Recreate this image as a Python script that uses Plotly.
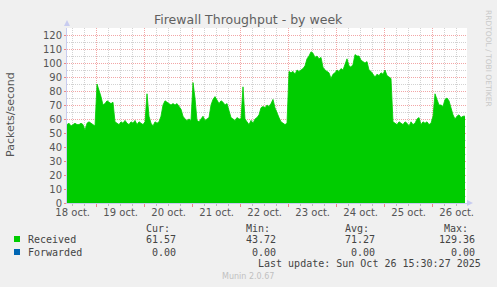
import pandas as pd
import plotly.graph_objects as go

# ---- data (hourly averages) ----
start_time = "2025-10-18 09:10"
received = [
    56, 57, 55, 56, 57, 56, 56, 57, 56, 52, 57, 58, 57, 56, 55,
    85, 81, 76, 70, 71, 73, 72, 71, 72,
    58, 57, 56, 58, 57, 59, 57, 56, 58, 57, 59, 56, 58, 57, 56,
    58, 78, 62,
    57, 55, 58, 57, 58,
    62, 70, 73, 72,
    71, 70, 71, 70, 71, 69,
    67, 62, 60, 59, 60, 59,
    86, 75,
    59, 58, 60, 62, 59, 60, 61,
    70, 74, 76, 73, 71, 73, 72, 70, 71, 66,
    61, 60, 59, 61, 60,
    60, 83,
    60, 58, 56, 59, 57, 60,
    61, 63, 68,
    69, 68, 70, 69,
    71, 74,
    68, 64, 61,
    58, 57, 56, 57,
    94, 93, 94, 92, 95, 94, 95, 96, 98,
    103, 105,
    108, 107,
    104, 105, 103, 104,
    97, 95, 94, 93,
    89, 92, 93,
    95, 94, 96, 95,
    99, 103,
    98, 97, 99,
    106, 105, 105,
    102, 101, 100, 101,
    95, 94, 92,
    90, 92, 91,
    93, 92, 95,
    91, 90, 89,
    58, 57, 56, 58, 57, 56, 58, 57, 55, 58, 56, 57, 60, 61,
    56, 58, 57, 58, 56, 57,
    62, 78,
    74, 70, 70, 69,
    74, 75, 73,
    68, 63, 60,
    62, 63, 61, 62, 62,
]
times = pd.date_range(start_time, periods=len(received), freq="h")
x_range = ["2025-10-18 09:10", "2025-10-26 17:10"]

day_lines = pd.date_range("2025-10-19", "2025-10-26", freq="D")
label_pos = pd.date_range("2025-10-18 12:00", "2025-10-26 12:00", freq="D")
day_labels = ["18 oct.", "19 oct.", "20 oct.", "21 oct.", "22 oct.",
              "23 oct.", "24 oct.", "25 oct.", "26 oct."]

series_names = ["Received", "Forwarded"]
series_colors = ["#00CC00", "#0066B3"]
cur_vals = ["61.57", "0.00"]
min_vals = ["43.72", "0.00"]
avg_vals = ["71.27", "0.00"]
max_vals = ["129.36", "0.00"]
headers = ["Cur:", "Min:", "Avg:", "Max:"]
last_update = "Last update: Sun Oct 26 15:30:27 2025"

# ---- layout geometry ----
W_PAGE, H_PAGE = 497, 287
L, T, R, B = 67, 28, 467, 203
PW, PH = R - L, B - T


def px(x):
    return (x - L) / PW


def py(y):
    return (B - y) / PH


RED = "#F2A6A6"
GREY = "#D2D2D2"
AXIS = "#C8CCF0"
TXT = "#555555"

fig = go.Figure()
fig.add_trace(go.Scatter(
    x=times, y=received, mode="lines", fill="tozeroy",
    line=dict(color="#00CC00", width=0.8), fillcolor="#00CC00",
    hoverinfo="skip", showlegend=False,
))
# overlay axis for day labels
fig.add_trace(go.Scatter(x=[times[0]], y=[0], xaxis="x2", mode="markers",
                         marker=dict(opacity=0), showlegend=False, hoverinfo="skip"))

annotations = []
shapes = []


def note(text, x, y, font, xanchor="center", textangle=0):
    annotations.append(dict(text=text, x=px(x), y=py(y), xref="paper", yref="paper",
                            xanchor=xanchor, yanchor="middle", showarrow=False,
                            textangle=textangle, font=font))


def tri(points):
    path = "M " + " L ".join(f"{px(a)},{py(b)}" for a, b in points) + " Z"
    shapes.append(dict(type="path", xref="paper", yref="paper", path=path,
                       fillcolor=AXIS, line=dict(width=0)))


note("Firewall Throughput - by week", 248, 19,
     dict(family="DejaVu Sans", size=12.5, color="#606060"))
note("Packets/second", 10, 115, dict(family="DejaVu Sans", size=11, color=TXT), textangle=-90)
note("RRDTOOL / TOBI OETIKER", 488, 58, dict(family="DejaVu Sans", size=7.5, color="#C8C8C8"),
     textangle=90)
tri([(64, 26), (70, 26), (67, 20)])
tri([(467, 200), (467, 206), (473, 203)])

mono = dict(family="DejaVu Sans Mono", size=10, color="#444444")
header_right = [172, 272, 371, 470]
value_right = [178, 278, 377, 477]
for h, xr in zip(headers, header_right):
    note(h, xr, 228, mono, xanchor="right")
rows_y = [239, 252]
for k in range(2):
    yy = rows_y[k]
    shapes.append(dict(type="rect", xref="paper", yref="paper",
                       x0=px(14), x1=px(20), y0=py(yy + 3), y1=py(yy - 3),
                       fillcolor=series_colors[k], line=dict(width=0)))
    note(series_names[k], 26, yy, mono, xanchor="left")
    for vals, xr in zip([cur_vals, min_vals, avg_vals, max_vals], value_right):
        note(vals[k], xr, yy, mono, xanchor="right")
note(last_update, 483, 263, mono, xanchor="right")
note("Munin 2.0.67", 248, 276, dict(family="DejaVu Sans", size=8, color="#C0C0C0"))

fig.update_layout(
    width=W_PAGE, height=H_PAGE,
    margin=dict(l=L, r=W_PAGE - R, t=T, b=H_PAGE - B, pad=0),
    paper_bgcolor="#F0F0F0", plot_bgcolor="#FFFFFF",
    font=dict(family="DejaVu Sans", size=10, color=TXT),
    xaxis=dict(
        type="date", range=x_range, tickmode="array", tickvals=list(day_lines),
        showticklabels=False, showgrid=True, gridcolor=RED, griddash="1px,1px", gridwidth=1,
        ticks="outside", ticklen=3, tickcolor="#EE8888",
        showline=True, linecolor=AXIS, linewidth=1, zeroline=False,
        minor=dict(dtick=6 * 3600 * 1000, tick0="2025-10-18", showgrid=True,
                   gridcolor=GREY, griddash="1px,1px", ticks="outside", ticklen=2,
                   tickcolor="#BBBBBB"),
    ),
    xaxis2=dict(
        type="date", range=x_range, overlaying="x", side="bottom", tickmode="array",
        tickvals=list(label_pos), ticktext=day_labels, showgrid=False, ticks="",
        showline=False, zeroline=False, tickfont=dict(size=10, color=TXT),
        ticklabelstandoff=2,
    ),
    yaxis=dict(
        range=[0, 125], tickmode="linear", tick0=0, dtick=10,
        showgrid=True, gridcolor=RED, griddash="1px,1px", gridwidth=1,
        ticks="outside", ticklen=2, tickcolor="#EE8888",
        showline=True, linecolor=AXIS, linewidth=1, zeroline=False,
        tickfont=dict(size=10, color=TXT),
        minor=dict(dtick=5, showgrid=True, gridcolor=GREY, griddash="1px,1px"),
    ),
    annotations=annotations, shapes=shapes, showlegend=False,
)

fig.write_html("out.html")
